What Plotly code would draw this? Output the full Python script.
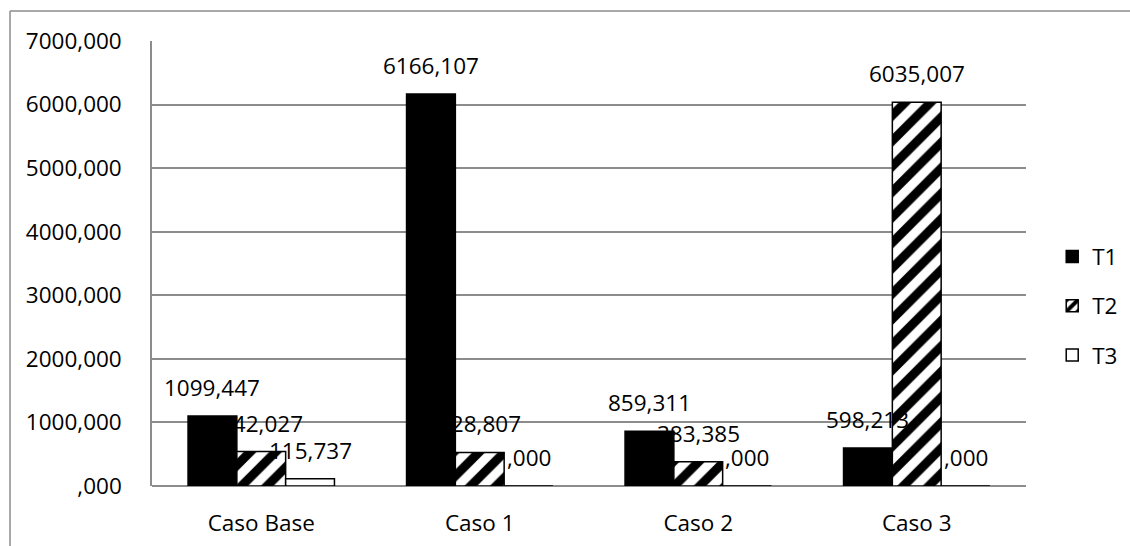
import plotly.graph_objects as go

# Chart data
categories = ["Caso Base", "Caso 1", "Caso 2", "Caso 3"]
t1_values = [1099.447, 6166.107, 859.311, 598.213]
t2_values = [542.027, 528.807, 383.385, 6035.007]
t3_values = [115.737, 0.000, 0.000, 0.000]
series_names = ["T1", "T2", "T3"]
y_ticks = [0, 1000, 2000, 3000, 4000, 5000, 6000, 7000]


def fmt(v):
    """Format like '#,000' with comma decimals: 1099.447 -> '1099,447', 0 -> ',000'."""
    s = f"{v:.3f}"
    ip, dp = s.split(".")
    if ip == "0":
        ip = ""
    return f"{ip},{dp}"


FONT = "Open Sans"
FS = 22.5
W, H = 1130, 546
ML, MR, MT, MB = 152, 104, 41, 60
GRID = "#8c8c8c"
BARGAP = 0.33

fig = go.Figure()

styles = [
    dict(marker=dict(color="black", line=dict(color="black", width=1.5))),
    dict(marker=dict(color="white", line=dict(color="black", width=1.5),
                     pattern=dict(shape="/", fgcolor="black", bgcolor="white",
                                  fgopacity=1, size=18, solidity=0.5))),
    dict(marker=dict(color="white", line=dict(color="black", width=1.5))),
]
all_values = [t1_values, t2_values, t3_values]

for name, vals, st in zip(series_names, all_values, styles):
    fig.add_trace(go.Bar(x=categories, y=vals, name=name, legendgroup=name, **st))

# Value labels above each bar
bar_w = (1 - BARGAP) / len(series_names)
for j, vals in enumerate(all_values):
    for i, v in enumerate(vals):
        fig.add_annotation(
            x=i + (j - 1) * bar_w, y=v, xref="x", yref="y",
            text=fmt(v), showarrow=False, yanchor="bottom", yshift=11,
            font=dict(family=FONT, size=FS, color="black"),
        )

# Outer frame lines (top and left)
pw = W - ML - MR
ph = H - MT - MB
fig.add_shape(type="line", xref="paper", yref="paper",
              x0=(10 - ML) / pw, x1=(W - ML) / pw,
              y0=(H - MB - 11) / ph, y1=(H - MB - 11) / ph,
              line=dict(color=GRID, width=1.5))
fig.add_shape(type="line", xref="paper", yref="paper",
              x0=(10 - ML) / pw, x1=(10 - ML) / pw,
              y0=(H - MB - 11) / ph, y1=-MB / ph - 0.05,
              line=dict(color=GRID, width=1.5))

fig.update_layout(
    width=W, height=H,
    margin=dict(l=ML, r=MR, t=MT, b=MB, pad=0, autoexpand=False),
    paper_bgcolor="white", plot_bgcolor="white",
    barmode="group", bargap=BARGAP, bargroupgap=0,
    font=dict(family=FONT, size=FS, color="black"),
    showlegend=True,
    legend=dict(x=1.03, y=0.405, xanchor="left", yanchor="middle",
                traceorder="grouped", tracegroupgap=17,
                font=dict(family=FONT, size=FS, color="black"),
                bgcolor="rgba(0,0,0,0)"),
    xaxis=dict(showgrid=False, showline=False, ticks="", ticklabelstandoff=21,
               automargin=False,
               tickfont=dict(family=FONT, size=FS, color="black")),
    yaxis=dict(range=[0, 7000], tickvals=y_ticks,
               ticktext=[fmt(v) for v in y_ticks],
               showgrid=True, gridcolor=GRID, gridwidth=1.5,
               showline=True, linecolor=GRID, linewidth=1.5,
               zeroline=True, zerolinecolor=GRID, zerolinewidth=1.5,
               ticks="", ticklabelstandoff=24, automargin=False,
               tickfont=dict(family=FONT, size=FS, color="black")),
)

fig.write_html("out.html")
